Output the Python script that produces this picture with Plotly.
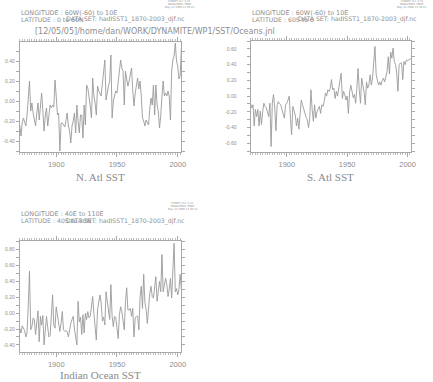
import plotly.graph_objects as go

# ---------------- data ----------------
years = list(range(1870, 2004))

natl = [
    -0.24, -0.35, -0.22, -0.17, -0.21, -0.25, -0.14, 0.02, 0.20, -0.10,
    -0.02, -0.12, -0.20, -0.25, -0.12, -0.02, -0.19, -0.05, 0.08, -0.09,
    -0.30, -0.15, -0.07, -0.25, -0.15, -0.04, -0.07, -0.04, -0.06, 0.21,
    0.05, -0.14, -0.12, -0.50, -0.22, -0.22, -0.24, -0.26, -0.20, -0.12,
    -0.25, -0.30, -0.42, -0.25, -0.20, -0.12, -0.32, -0.04, -0.20, -0.32,
    -0.14, -0.14, -0.37, -0.04, -0.24, 0.16, 0.13, 0.05, -0.05, -0.17,
    0.23, 0.05, -0.02, -0.14, 0.15, 0.10, 0.08, 0.05, 0.18, 0.30,
    0.41, 0.01, 0.11, 0.15, 0.20, 0.46, -0.17, 0.00, 0.05, 0.10,
    0.08, 0.20, 0.35, 0.41, 0.33, 0.30, -0.04, 0.30, 0.22, 0.15,
    0.20, 0.25, 0.33, 0.10, -0.05, 0.08, 0.15, 0.23, 0.12, 0.20,
    0.05, -0.17, -0.20, -0.25, -0.19, -0.22, -0.24, -0.08, 0.03, -0.04,
    0.16, -0.14, 0.16, -0.04, -0.10, -0.27, -0.15, 0.05, 0.20, 0.05,
    0.08, 0.05, 0.10, 0.05, -0.19, 0.30, 0.41, 0.45, 0.58, 0.40,
    0.35, 0.22, 0.25, 0.53,
]

satl = [
    -0.09, -0.15, -0.11, -0.38, -0.17, -0.26, -0.17, -0.38, -0.19, -0.36,
    -0.20, -0.09, -0.13, -0.15, -0.20, -0.26, -0.09, -0.64, -0.09, 0.02,
    -0.15, -0.44, -0.11, -0.07, -0.10, -0.11, -0.17, -0.22, -0.28, -0.11,
    -0.09, -0.05, 0.00, -0.28, -0.49, -0.13, -0.20, -0.24, -0.38, -0.28,
    -0.42, -0.21, -0.05, -0.11, -0.17, -0.24, -0.27, -0.30, -0.40, -0.28,
    0.08, -0.17, -0.32, -0.11, -0.28, -0.20, -0.17, -0.13, -0.22, -0.11,
    -0.13, -0.07, 0.04, 0.00, 0.08, 0.06, 0.10, 0.21, 0.08, 0.10,
    -0.03, 0.06, 0.00, 0.10, 0.23, 0.29, -0.03, 0.06, 0.02, -0.05,
    0.00, -0.22, 0.05, 0.14, 0.06, -0.02, 0.02, -0.09, 0.10, 0.35,
    0.08, -0.09, 0.23, 0.14, 0.05, -0.11, 0.18, 0.10, 0.15, 0.27,
    0.14, 0.23, 0.40, 0.63, 0.27, 0.20, 0.14, 0.18, 0.14, 0.20,
    0.23, 0.18, 0.25, 0.31, 0.50, 0.28, 0.56, 0.48, 0.61, 0.44,
    0.40, 0.30, 0.06, 0.40, 0.42, 0.42, 0.21, 0.44, 0.40, 0.46,
    0.45, 0.46, 0.47, 0.48,
]

indian = [
    -0.19, -0.25, -0.16, -0.19, -0.22, -0.30, -0.25, 0.10, 0.53, -0.21,
    -0.17, -0.06, -0.08, -0.27, -0.11, 0.03, -0.36, -0.04, -0.15, -0.03,
    -0.40, -0.17, -0.04, -0.18, -0.30, -0.28, 0.05, 0.23, -0.15, -0.19,
    0.08, -0.05, -0.11, -0.23, -0.13, 0.02, -0.21, -0.23, -0.22, -0.23,
    -0.30, -0.18, -0.13, -0.08, -0.04, -0.20, -0.30, -0.40, 0.15, -0.11,
    -0.05, -0.27, -0.02, -0.25, 0.00, -0.08, 0.02, -0.06, -0.04, 0.11,
    0.21, 0.00, -0.15, -0.34, 0.04, 0.15, 0.23, 0.13, -0.10, -0.05,
    -0.15, 0.27, 0.13, 0.05, -0.08, 0.36, -0.04, -0.17, -0.04, -0.06,
    -0.20, -0.32, -0.02, 0.08, 0.02, -0.10, -0.21, 0.15, 0.32, 0.04,
    0.04, 0.06, -0.04, 0.06, -0.30, -0.06, -0.04, -0.04, -0.21, 0.20,
    0.34, 0.06, 0.49, 0.13, 0.05, -0.13, 0.10, 0.25, 0.34, 0.21,
    0.19, 0.30, 0.46, 0.15, 0.25, 0.40, 0.27, 0.74, 0.27, 0.35,
    0.44, 0.36, 0.21, 0.30, 0.44, 0.19, 0.53, 0.88, 0.27, 0.31,
    0.23, 0.30, 0.49, 0.30,
]

assert len(natl) == len(satl) == len(indian) == len(years)

x_ticks = [1900, 1950, 2000]
natl_yticks = [-0.4, -0.2, 0.0, 0.2, 0.4, 0.6]
satl_yticks = [-0.6, -0.4, -0.2, 0.0, 0.2, 0.4, 0.6]
indian_yticks = [-0.4, -0.2, 0.0, 0.2, 0.4, 0.6, 0.8]

titles = ["N. Atl SST", "S. Atl SST", "Indian Ocean SST"]

# ---------------- layout helpers ----------------
W, H = 433, 382


def xd(a, b):
    return [a / W, b / W]


def yd(top, bottom):
    return [1 - bottom / H, 1 - top / H]


LINE = "#9a9a9a"
AXC = "#a8a8a8"
TXT = "#8e8e8e"
SANS = "Liberation Sans, Arial, sans-serif"
WIDE = "DejaVu Sans, Verdana, sans-serif"
SERIF = "Liberation Serif, Times New Roman, serif"


def xaxis(domain, anchor):
    return dict(
        domain=domain, anchor=anchor, range=[1870, 2003],
        tickmode="array", tickvals=x_ticks, ticktext=[str(v) for v in x_ticks],
        ticks="outside", ticklen=4, tickwidth=1, tickcolor=AXC,
        showline=True, linecolor=AXC, linewidth=1, mirror="ticks",
        showgrid=False, zeroline=False,
        tickfont=dict(family=SANS, size=7.5, color=TXT),
        minor=dict(tick0=1870, dtick=2, ticks="outside", ticklen=2,
                   tickwidth=1, tickcolor="#bdbdbd", showgrid=False),
        ticklabelstandoff=1,
    )


def yaxis(domain, anchor, rng, tv, standoff):
    return dict(
        domain=domain, anchor=anchor, range=rng,
        tickmode="array", tickvals=tv, ticktext=[f"{v:.2f}" for v in tv],
        ticks="outside", ticklen=3, tickwidth=1, tickcolor=AXC,
        showline=True, linecolor=AXC, linewidth=1, mirror="ticks",
        showgrid=False, zeroline=False,
        tickfont=dict(family=SANS, size=5, color=TXT),
        minor=dict(tick0=0, dtick=0.1, ticks="outside", ticklen=3,
                   tickwidth=1, tickcolor=AXC, showgrid=False),
        ticklabelstandoff=standoff,
    )


fig = go.Figure()
fig.add_trace(go.Scatter(x=years, y=natl, mode="lines", xaxis="x", yaxis="y",
                         line=dict(color=LINE, width=0.9), showlegend=False))
fig.add_trace(go.Scatter(x=years, y=satl, mode="lines", xaxis="x2", yaxis="y2",
                         line=dict(color=LINE, width=0.9), showlegend=False))
fig.add_trace(go.Scatter(x=years, y=indian, mode="lines", xaxis="x3", yaxis="y3",
                         line=dict(color=LINE, width=0.9), showlegend=False))

P1 = (20, 183.5, 41.5, 152)
P2 = (253.5, 416, 41, 152)
P3 = (20, 183.5, 241, 352)

fig.update_layout(
    width=W, height=H, margin=dict(l=0, r=0, t=0, b=0),
    paper_bgcolor="white", plot_bgcolor="white",
    xaxis=xaxis(xd(P1[0], P1[1]), "y"),
    yaxis=yaxis(yd(P1[2], P1[3]), "x", [-0.51, 0.595], natl_yticks, 0),
    xaxis2=xaxis(xd(P2[0], P2[1]), "y2"),
    yaxis2=yaxis(yd(P2[2], P2[3]), "x2", [-0.71, 0.70], satl_yticks, 9),
    xaxis3=xaxis(xd(P3[0], P3[1]), "y3"),
    yaxis3=yaxis(yd(P3[2], P3[3]), "x3", [-0.49, 0.91], indian_yticks, 0),
)

ann = []


def text(x, y, s, size, family=WIDE, anchor="left", color=TXT, yanchor="middle"):
    ann.append(dict(x=x / W, y=1 - y / H, xref="paper", yref="paper", text=s,
                    showarrow=False, xanchor=anchor, yanchor=yanchor, borderpad=0,
                    font=dict(family=family, size=size, color=color)))


# headers
for (px, py, lat, ferret_x, ferret_y, lon) in [
    (20, 12.7, "LATITUDE : 0 to 60N", 182, 1.5, "LONGITUDE : 60W(-60) to 10E"),
    (254, 12.7, "LATITUDE : 60S to 0", 417, 1.5, "LONGITUDE : 60W(-60) to 10E"),
    (20, 214, "LATITUDE : 40S to 30N", 185, 203, "LONGITUDE : 40E to 110E"),
]:
    text(px, py, lon, 6.4)
    text(px, py + 6.5, lat, 6.2)
    text(px + 46, py + 6.5, "DATA SET: hadISST1_1870-2003_djf.nc", 6.2)
    text(ferret_x, ferret_y + 0.5, "FERRET Ver. 5.22", 2.6, anchor="center")
    text(ferret_x, ferret_y + 3.3, "NOAA/PMEL TMAP", 2.6, anchor="center")
    text(ferret_x, ferret_y + 6.1, "May 12 2006 11:36:12", 2.6, anchor="center")

text(34, 31.7, "[12/05/05]/home/dan/WORK/DYNAMITE/WP1/SST/Oceans.jnl", 8)

# panel titles
text((P1[0] + P1[1]) / 2, 176.7, titles[0], 11, family=SERIF, anchor="center", color="#8a8a8a")
text((P2[0] + P2[1]) / 2, 176.7, titles[1], 11, family=SERIF, anchor="center", color="#8a8a8a")
text((P3[0] + P3[1]) / 2, 382, titles[2], 11, family=SERIF, anchor="center", color="#8a8a8a",
     yanchor="bottom")

fig.update_layout(annotations=ann)
fig.write_html("out.html", config={"displayModeBar": False},
               post_script="document.body.style.margin='0px';")
